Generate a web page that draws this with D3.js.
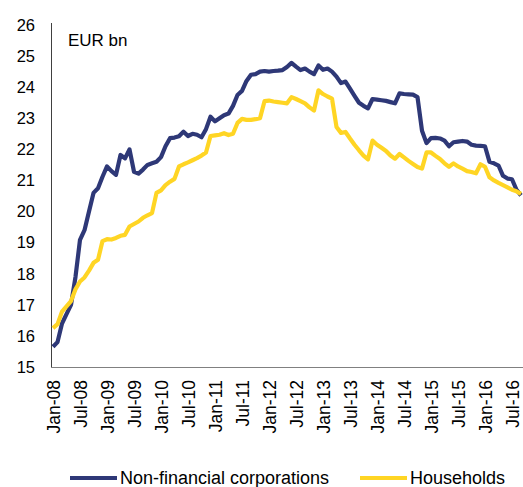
<!DOCTYPE html>
<html>
<head>
<meta charset="utf-8">
<script src="https://cdn.jsdelivr.net/npm/d3@7"></script>
<style>
  body { margin: 0; background: #fff; }
  text { font-family: "Liberation Sans", Arial, sans-serif; fill: #000; }
</style>
</head>
<body>
<svg id="chart"></svg>
<script>
// monthly values, Jan-08 .. Sep-16 (EUR bn)
const nfc = [
  15.65, 15.8, 16.4, 16.7, 17.0, 17.9, 19.09, 19.4, 20.0, 20.6,
  20.75, 21.12, 21.45, 21.3, 21.18, 21.82, 21.71, 22.0, 21.28, 21.22,
  21.35, 21.5, 21.55, 21.6, 21.75, 22.1, 22.36, 22.38, 22.42, 22.57,
  22.43, 22.5, 22.47, 22.39, 22.65, 23.05, 22.9, 23.0, 23.1, 23.15,
  23.4, 23.75, 23.88, 24.2, 24.4, 24.42, 24.5, 24.52, 24.5, 24.52,
  24.53, 24.55, 24.65, 24.78, 24.66, 24.55, 24.6, 24.5, 24.42, 24.7,
  24.56, 24.6, 24.5, 24.34, 24.13, 24.18, 23.95, 23.72, 23.5, 23.4,
  23.32, 23.62, 23.6, 23.58, 23.56, 23.52, 23.48, 23.8, 23.78, 23.77,
  23.76, 23.68, 22.6, 22.2, 22.36, 22.37, 22.35, 22.28, 22.1, 22.23,
  22.25, 22.27, 22.25, 22.15, 22.12, 22.11, 22.1, 21.6, 21.55, 21.48,
  21.15, 21.06, 21.04, 20.7, 20.52
]
const households = [
  16.25, 16.38, 16.78, 16.95, 17.12, 17.5, 17.75, 17.88, 18.1, 18.35,
  18.45, 19.05, 19.11, 19.1, 19.15, 19.22, 19.25, 19.52, 19.6, 19.68,
  19.8, 19.88, 19.95, 20.6, 20.68, 20.85, 20.96, 21.05, 21.45, 21.52,
  21.58, 21.65, 21.72, 21.8, 21.9, 22.43, 22.45, 22.47, 22.52, 22.46,
  22.5, 22.85, 22.98, 22.95, 22.95, 22.97, 23.0, 23.55, 23.57, 23.54,
  23.52, 23.5, 23.48, 23.68, 23.62, 23.55, 23.48, 23.35, 23.25, 23.9,
  23.78, 23.7, 23.63, 22.72, 22.53, 22.56, 22.35, 22.15, 21.97, 21.8,
  21.68, 22.28, 22.15, 22.05, 21.95, 21.8, 21.7, 21.85, 21.74, 21.63,
  21.53, 21.43, 21.38, 21.9, 21.9, 21.79, 21.69, 21.55, 21.44, 21.55,
  21.45, 21.38, 21.3, 21.27, 21.23, 21.52, 21.44, 21.1, 21.0, 20.92,
  20.85, 20.78, 20.7, 20.65, 20.57
]
const tickLabels = ['Jan-08','Jul-08','Jan-09','Jul-09','Jan-10','Jul-10','Jan-11','Jul-11','Jan-12',
                    'Jul-12','Jan-13','Jul-13','Jan-14','Jul-14','Jan-15','Jul-15','Jan-16','Jul-16']
const yTicks = [15,16,17,18,19,20,21,22,23,24,25,26]
const seriesNames = ['Non-financial corporations', 'Households']
const colorsArr = ['#2E3877', '#FFD524']

const width = 523, height = 487

const svg = d3.select('#chart')
    .attr('width', width)
    .attr('height', height)

const x = d3.scaleLinear().domain([0, nfc.length - 1]).range([53, 521])
const y = d3.scaleLinear().domain([15, 26]).range([367, 25])
const colors = d3.scaleOrdinal(seriesNames, colorsArr)

// y axis labels (no tick marks)
svg.append('g')
    .attr('transform', 'translate(51,0)')
    .call(d3.axisLeft(y).tickValues(yTicks).tickSize(0).tickPadding(16).tickFormat(d3.format('d')))
    .call(g => g.select('.domain').remove())
    .selectAll('text')
        .style('font-size', '16.5px')
        .attr('font-family', null)

svg.append('line')
    .attr('x1', 51.5).attr('x2', 51.5)
    .attr('y1', 23).attr('y2', 368)
    .attr('stroke', '#404040')
    .attr('stroke-width', 1)

// x axis, labels every six months, rotated
const xAxis = svg.append('g')
    .attr('transform', 'translate(0,368)')
    .call(d3.axisBottom(x)
        .tickValues(tickLabels.map((d, i) => i * 6))
        .tickSize(0)
        .tickFormat((d, i) => tickLabels[i]))
xAxis.select('.domain').remove()
xAxis.selectAll('text')
    .attr('font-family', null)
    .style('font-size', '17.5px')
    .attr('text-anchor', 'end')
    .attr('transform', 'rotate(-90)')
    .attr('x', -12)
    .attr('y', 0)
    .attr('dy', '0.36em')

svg.append('line')
    .attr('x1', 51).attr('x2', 523)
    .attr('y1', 367.5).attr('y2', 367.5)
    .attr('stroke', '#808080')
    .attr('stroke-width', 1.2)

svg.append('text')
    .attr('x', 68)
    .attr('y', 46)
    .style('font-size', '17px')
    .text('EUR bn')

// lines
const line = d3.line()
    .x((d, i) => x(i))
    .y(d => y(d))

svg.append('g')
    .selectAll('path')
    .data([nfc, households])
    .join('path')
        .attr('d', line)
        .attr('fill', 'none')
        .attr('stroke', (d, i) => colors(seriesNames[i]))
        .attr('stroke-width', 4.2)
        .attr('stroke-linejoin', 'round')

// legend
const legendX = [70, 360]
const legend = svg.append('g')
    .selectAll('g')
    .data(seriesNames)
    .join('g')
        .attr('transform', (d, i) => `translate(${legendX[i]},478)`)

legend.append('line')
    .attr('x1', 0).attr('x2', 47)
    .attr('stroke', d => colors(d))
    .attr('stroke-width', 4.2)

legend.append('text')
    .attr('x', 50)
    .attr('dy', '0.36em')
    .style('font-size', '18px')
    .text(d => d)
</script>
</body>
</html>
